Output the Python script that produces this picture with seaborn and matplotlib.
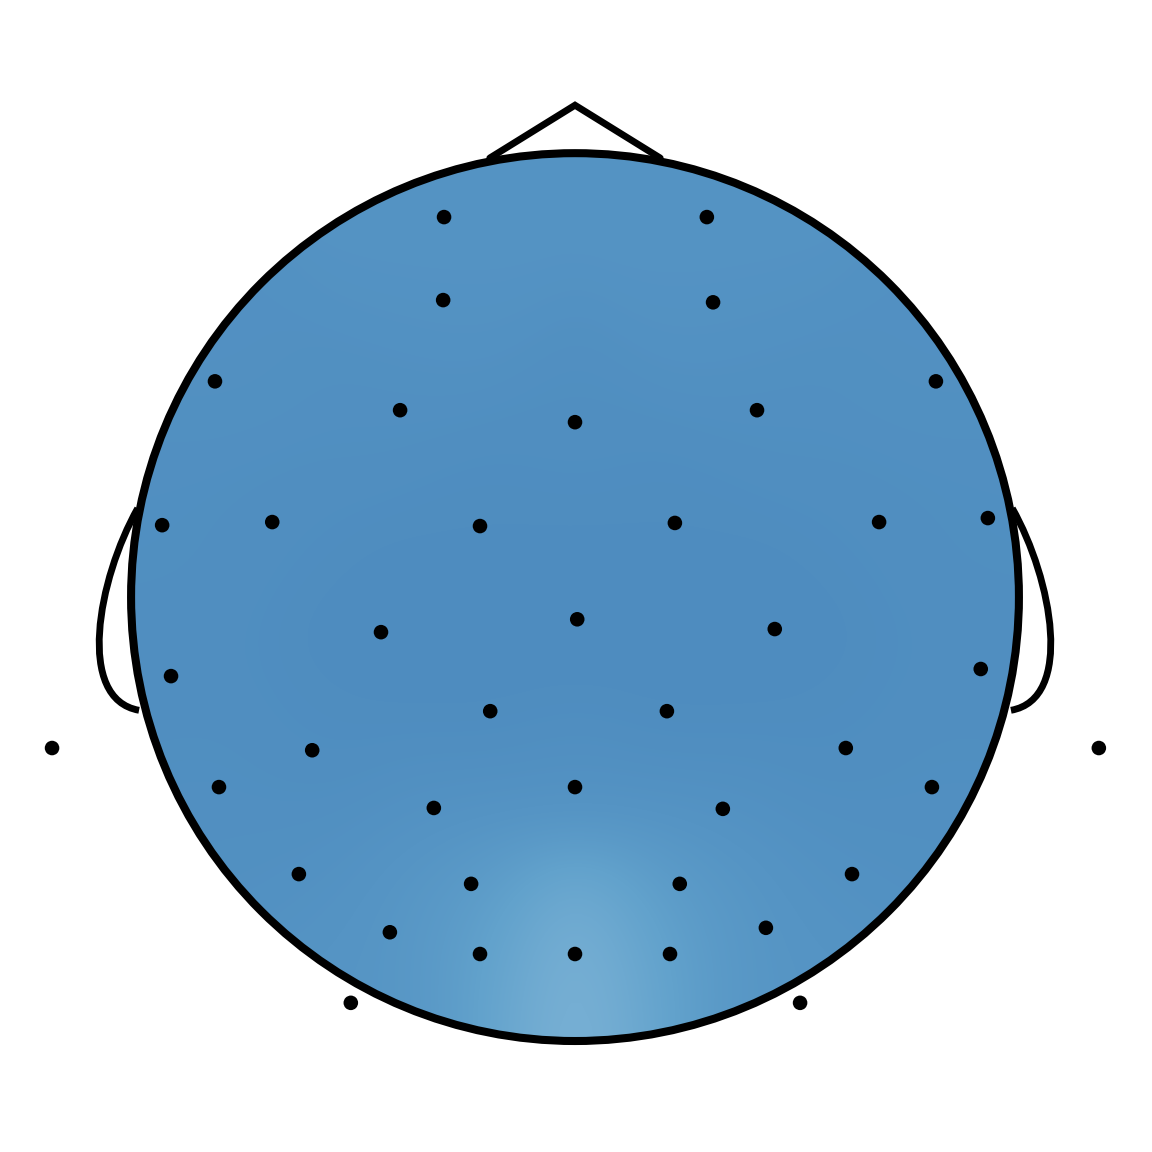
import numpy as np
import pandas as pd
import matplotlib
matplotlib.use("Agg")
import matplotlib.pyplot as plt
import seaborn as sns
from matplotlib.colors import LinearSegmentedColormap
from matplotlib.patches import Circle, PathPatch
from matplotlib.path import Path

# electrode positions in head units (radius 1, nose up)
elec_x = [-0.295, 0.297, -0.297, 0.311, -0.811, 0.813, -0.394, 0.0, 0.410,
          -0.930, -0.682, -0.214, 0.225, 0.685, 0.930, -0.437, 0.005, 0.450,
          -0.910, 0.914, -0.191, 0.207, -1.178, -0.592, 0.610, 1.180,
          -0.802, 0.0, 0.804, -0.318, 0.333, -0.622, -0.234, 0.236, 0.624,
          -0.417, 0.430, -0.214, 0.0, 0.214, -0.505, 0.507]
elec_y = [0.856, 0.856, 0.669, 0.664, 0.486, 0.486, 0.421, 0.394, 0.421,
          0.162, 0.169, 0.160, 0.167, 0.169, 0.178, -0.079, -0.050, -0.072,
          -0.178, -0.162, -0.257, -0.257, -0.340, -0.345, -0.340, -0.340,
          -0.428, -0.428, -0.428, -0.475, -0.477, -0.624, -0.646, -0.646, -0.624,
          -0.755, -0.745, -0.804, -0.804, -0.804, -0.914, -0.914]
# signal at each electrode (arbitrary units)
elec_val = [0.16, 0.16, 0.13, 0.13, 0.10, 0.10, 0.07, 0.06, 0.07,
            0.07, 0.05, 0.02, 0.02, 0.05, 0.07, 0.0, 0.0, 0.0,
            0.05, 0.05, 0.0, 0.0, 0.06, 0.03, 0.03, 0.06,
            0.08, 0.12, 0.08, 0.08, 0.08, 0.10, 0.26, 0.26, 0.10,
            0.16, 0.16, 0.36, 1.0, 0.36, 0.18, 0.18]

df = pd.DataFrame({"x": elec_x, "y": elec_y, "v": elec_val})

# smooth the electrode values onto a grid (gaussian weighted average)
gx, gy = np.meshgrid(np.linspace(-1.05, 1.05, 90), np.linspace(-1.05, 1.05, 90))
d2 = (gx[..., None] - df.x.values) ** 2 + (gy[..., None] - df.y.values) ** 2
w = np.exp(-d2 / (2 * 0.145 ** 2)) + 1e-12
field = (w * df.v.values).sum(-1) / w.sum(-1)

cmap = LinearSegmentedColormap.from_list(
    "topo", [(0.0, "#4E8CBF"), (0.16, "#5594C4"), (0.4, "#62A2CC"), (1.0, "#88BADA")])

sns.set_style("white")
fig = plt.figure(figsize=(11.52, 11.52), dpi=100)
ax = fig.add_axes([0, 0, 1, 1])

im = ax.imshow(field, extent=(-1.05, 1.05, -1.05, 1.05), origin="lower",
               cmap=cmap, vmin=0, vmax=1, interpolation="bilinear", zorder=1)
clip = Circle((0, 0), 1.0, transform=ax.transData)
im.set_clip_path(clip)

lw = 5.8
ax.add_patch(Circle((0, 0), 1.0, fill=False, ec="black", lw=lw, zorder=3))

# nose
ax.plot([-0.192, 0.0, 0.192], [0.989, 1.108, 0.989], color="black", lw=lw * 0.85,
        solid_joinstyle="miter", zorder=2)

# ears
for s in (-1, 1):
    verts = [(0.985, 0.200), (1.075, 0.04), (1.125, -0.23), (0.982, -0.255)]
    verts = [(s * vx, vy) for vx, vy in verts]
    ear = Path(verts, [Path.MOVETO, Path.CURVE4, Path.CURVE4, Path.CURVE4])
    ax.add_patch(PathPatch(ear, fill=False, ec="black", lw=lw * 0.85, zorder=2))

sns.scatterplot(data=df, x="x", y="y", color="black", s=110, edgecolor="none",
                ax=ax, zorder=4, legend=False)

ax.set_xlim(-1.295, 1.2995)
ax.set_ylim(-1.25, 1.345)
ax.set_aspect("equal")
ax.axis("off")
fig.savefig("out.png", dpi=100)
